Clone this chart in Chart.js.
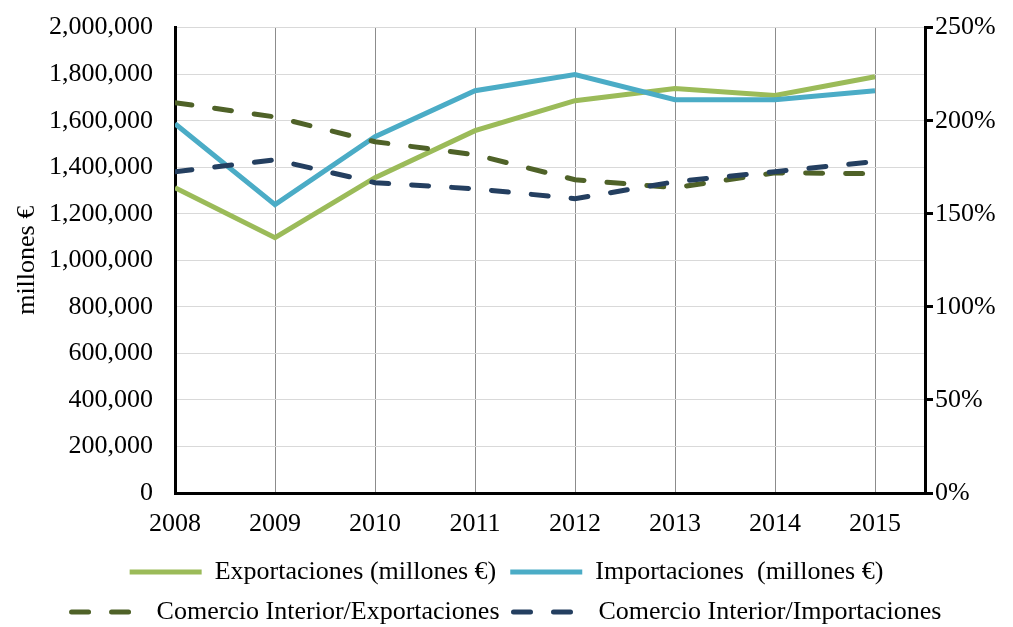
<!DOCTYPE html>
<html>
<head>
<meta charset="utf-8">
<script src="https://cdn.jsdelivr.net/npm/chart.js@4.4.0/dist/chart.umd.min.js"></script>
<style>
  body { margin: 0; background: #fff; }
  #wrap { width: 1013px; height: 627px; }
</style>
</head>
<body>
<div id="wrap"><canvas id="tradeCanvas"></canvas></div>
<script>
  var years = [2008, 2009, 2010, 2011, 2012, 2013, 2014, 2015];
  var exportaciones = [1312000, 1097000, 1355000, 1557000, 1686000, 1738000, 1708000, 1789000];
  var importaciones = [1587000, 1239000, 1531000, 1729000, 1798000, 1690000, 1690000, 1729000];
  var ciExport = [209.7, 202.0, 188.7, 181.7, 168.3, 164.0, 172.0, 171.5];
  var ciImport = [172.6, 179.0, 166.7, 163.4, 158.1, 167.2, 172.6, 178.0];

  function pts(arr) {
    return years.map(function (yr, i) { return {x: yr, y: arr[i]}; });
  }

  var font = {family: "'Liberation Serif', 'Times New Roman', serif", size: 26};
  Chart.defaults.font = font;
  Chart.defaults.color = '#000';

  ctx = document.getElementById('tradeCanvas').getContext('2d');
  var chart = new Chart(ctx, {
    type: 'line',
    data: {
      datasets: [{
        label: 'Exportaciones (millones €)',
        data: pts(exportaciones),
        borderColor: '#9BBB59',
        borderWidth: 5,
        yAxisID: 'y',
        order: 4
      }, {
        label: 'Importaciones  (millones €)',
        data: pts(importaciones),
        borderColor: '#4BACC6',
        borderWidth: 5,
        yAxisID: 'y',
        order: 3
      }, {
        label: 'Comercio Interior/Exportaciones',
        data: pts(ciExport),
        borderColor: '#4F6228',
        borderWidth: 5,
        borderDash: [17, 23],
        borderCapStyle: 'round',
        yAxisID: 'y1',
        order: 2
      }, {
        label: 'Comercio Interior/Importaciones',
        data: pts(ciImport),
        borderColor: '#243F60',
        borderWidth: 5,
        borderDash: [17, 23],
        borderCapStyle: 'round',
        yAxisID: 'y1',
        order: 1
      }]
    },
    options: {
      responsive: true,
      maintainAspectRatio: false,
      animation: false,
      elements: { point: { radius: 0 }, line: { tension: 0 } },
      layout: { padding: { left: 0, right: 0, top: 0, bottom: -8 } },
      plugins: {
        tooltip: { enabled: false },
        legend: {
          position: 'bottom',
          labels: {
            usePointStyle: true,
            pointStyle: 'line',
            pointStyleWidth: 72,
            padding: 14,
            font: font,
            sort: function (a, b) { return a.datasetIndex - b.datasetIndex; },
            generateLabels: function (c) {
              var items = Chart.defaults.plugins.legend.labels.generateLabels(c);
              items.forEach(function (it) {
                var ds = c.data.datasets[it.datasetIndex];
                it.lineDash = ds.borderDash || [];
                it.lineCap = ds.borderCapStyle || 'butt';
                it.lineWidth = 5;
                it.strokeStyle = ds.borderColor;
              });
              return items;
            }
          }
        }
      },
      scales: {
        x: {
          type: 'linear',
          min: 2008,
          max: 2015.5,
          afterBuildTicks: function (axis) {
            axis.ticks = years.map(function (v) { return {value: v}; });
          },
          afterFit: function (axis) { axis.height = 52; },
          ticks: { padding: 16, callback: function (v) { return String(v); } },
          grid: { color: '#8C8C8C', lineWidth: 1, drawTicks: false },
          border: { color: '#000', width: 3 }
        },
        y: {
          position: 'left',
          min: 0,
          max: 2000000,
          afterFit: function (axis) { axis.width = 175; },
          ticks: {
            stepSize: 200000,
            padding: 12,
            callback: function (v) { return v.toLocaleString('en-US'); }
          },
          grid: { color: '#D9D9D9', lineWidth: 1, drawTicks: true, tickLength: 10, tickColor: 'rgba(0,0,0,0)' },
          border: { color: '#000', width: 3 },
          title: { display: true, text: 'millones €', font: font, padding: {top: 12, bottom: 0} }
        },
        y1: {
          position: 'right',
          min: 0,
          max: 250,
          afterFit: function (axis) { axis.width = 88; },
          ticks: {
            stepSize: 50,
            padding: 2,
            callback: function (v) { return v + '%'; }
          },
          grid: { drawOnChartArea: false, drawTicks: true, tickLength: 8, tickColor: '#000', lineWidth: 3 },
          border: { color: '#000', width: 3 }
        }
      }
    }
  });
</script>
</body>
</html>
